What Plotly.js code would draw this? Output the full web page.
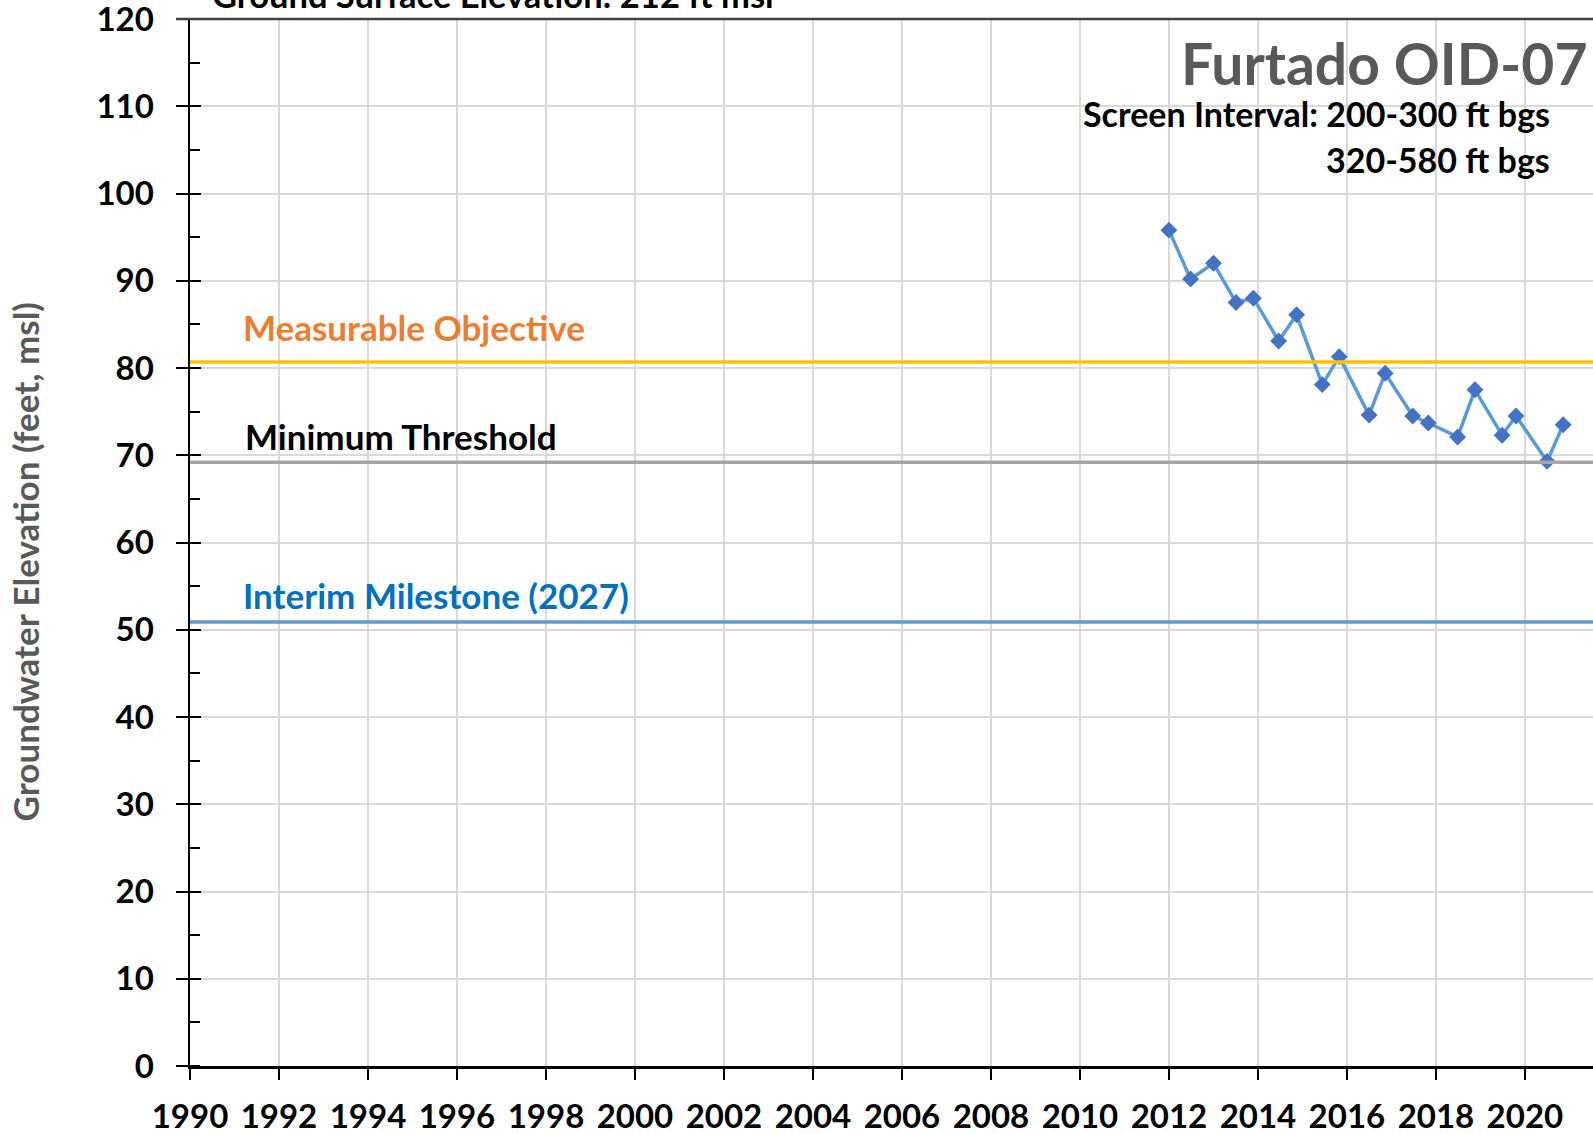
<!DOCTYPE html>
<html>
<head>
<meta charset="utf-8">
<script src="https://cdn.plot.ly/plotly-3.0.1.min.js"></script>
<style>
html,body{margin:0;padding:0;overflow:hidden;background:#fff;}
#chart{width:1593px;height:1134px;}
</style>
</head>
<body>
<div id="chart"></div>
<script>
// ---- data ----
const sampleDates = ['2012-01-01','2012-06-27','2013-01-01','2013-07-05','2013-11-24','2014-06-20','2014-11-14','2015-06-13','2015-10-30','2016-07-01','2016-11-10','2017-06-24','2017-10-30','2018-06-28','2018-11-17','2019-06-28','2019-10-20','2020-07-01','2020-11-10'];
const elevations = [95.8,90.2,92.0,87.5,88.0,83.1,86.1,78.1,81.3,74.6,79.4,74.5,73.7,72.1,77.5,72.3,74.5,69.3,73.5];
const measurableObjective = 80.7;
const minimumThreshold = 69.2;
const interimMilestone = 50.9;
const xRange = ['1990-01-01','2021-07-13'];
const yRange = [0,120];
const yTickVals = [0,10,20,30,40,50,60,70,80,90,100,110,120];
const wellName = 'Furtado OID-07';
const screenLine1 = 'Screen Interval: 200-300 ft bgs';
const screenLine2 = '320-580 ft bgs';
const groundSurface = 'Ground Surface Elevation: 212 ft msl';
const yTitle = 'Groundwater Elevation (feet, msl)';

const F = 'Lato, "Open Sans", sans-serif';

const traces = [{
  x: sampleDates, y: elevations, type:'scatter', mode:'lines+markers',
  line:{color:'#5B9BD5', width:3.5},
  marker:{symbol:'diamond', size:13, color:'#4472C4'},
  cliponaxis:false, hoverinfo:'x+y', showlegend:false
},{
  // empty trace so the overlay axis (inner major ticks) is drawn
  x:[xRange[0]], y:[null], yaxis:'y2', type:'scatter', mode:'markers', showlegend:false, hoverinfo:'skip'
}];

function hline(v, color){
  return {type:'line', xref:'paper', yref:'y', x0:0, x1:1, y0:v, y1:v, line:{color:color, width:3.5}, layer:'above'};
}

const layout = {
  width:1593, height:1134,
  margin:{l:190, r:0, t:19, b:68},
  paper_bgcolor:'#fff', plot_bgcolor:'#fff',
  font:{family:F, color:'#000'},
  showlegend:false,
  xaxis:{
    type:'date', range:xRange, tick0:'1990-01-01', dtick:'M24', tickformat:'%Y',
    showgrid:true, gridcolor:'#D9D9D9', gridwidth:2,
    showline:true, linecolor:'#000', linewidth:2.5,
    ticks:'outside', ticklen:11, tickwidth:2, tickcolor:'#000',
    tickfont:{family:F, size:33, color:'#000', weight:'bold'},
    ticklabelstandoff:9, ticklabeloverflow:'allow', zeroline:false, fixedrange:true
  },
  yaxis:{
    range:yRange, tickmode:'array', tickvals:yTickVals,
    showgrid:true, gridcolor:'#D9D9D9', gridwidth:2,
    showline:true, linecolor:'#000', linewidth:2.5,
    ticks:'outside', ticklen:12, tickwidth:2, tickcolor:'#000',
    minor:{ticks:'inside', ticklen:10, dtick:5, tickwidth:2, tickcolor:'#000', showgrid:false},
    tickfont:{family:F, size:33, color:'#000', weight:'bold'},
    ticklabelstandoff:15, ticklabeloverflow:'allow', zeroline:false, fixedrange:true
  },
  yaxis2:{
    overlaying:'y', side:'left', range:yRange, tickmode:'array', tickvals:yTickVals, showgrid:false,
    showline:false, showticklabels:false, ticks:'inside', ticklen:11, tickwidth:2, tickcolor:'#000',
    zeroline:false, fixedrange:true
  },
  shapes:[
    hline(measurableObjective,'#FFC000'),
    hline(minimumThreshold,'#A5A5A5'),
    hline(interimMilestone,'#5B9BD5'),
    {type:'line', xref:'paper', yref:'paper', x0:-0.01, x1:1, y0:1, y1:1, line:{color:'#404040', width:2.5}, layer:'above'}
  ],
  annotations:[
    {text:wellName, xref:'paper', yref:'paper', x:0.997, y:0.958, xanchor:'right', yanchor:'middle', showarrow:false,
     font:{family:F, size:57, color:'#595959', weight:'bold'}},
    {text:screenLine1, xref:'paper', yref:'paper', x:0.971, y:0.9095, xanchor:'right', yanchor:'middle', showarrow:false,
     font:{family:F, size:34, color:'#000', weight:'bold'}},
    {text:screenLine2, xref:'paper', yref:'paper', x:0.971, y:0.8655, xanchor:'right', yanchor:'middle', showarrow:false,
     font:{family:F, size:34, color:'#000', weight:'bold'}},
    {text:groundSurface, xref:'paper', yref:'paper', x:0.0143, y:1.023, xanchor:'left', yanchor:'middle', showarrow:false,
     font:{family:F, size:34.5, color:'#000', weight:'bold'}},
    {text:'Measurable Objective', xref:'paper', yref:'y', x:0.036, y:84.7, xanchor:'left', yanchor:'middle', showarrow:false,
     font:{family:F, size:35, color:'#ED7D31', weight:'bold'}},
    {text:'Minimum Threshold', xref:'paper', yref:'y', x:0.038, y:72.2, xanchor:'left', yanchor:'middle', showarrow:false,
     font:{family:F, size:35, color:'#000', weight:'bold'}},
    {text:'Interim Milestone (2027)', xref:'paper', yref:'y', x:0.036, y:54.0, xanchor:'left', yanchor:'middle', showarrow:false,
     font:{family:F, size:35, color:'#0070C0', weight:'bold'}},
    {text:yTitle, xref:'paper', yref:'paper', x:-0.1176, y:0.481, xanchor:'center', yanchor:'middle', textangle:-90, showarrow:false,
     font:{family:F, size:35, color:'#595959', weight:'bold'}}
  ]
};

Plotly.newPlot('chart', traces, layout, {displayModeBar:false, staticPlot:true});
</script>
</body>
</html>
